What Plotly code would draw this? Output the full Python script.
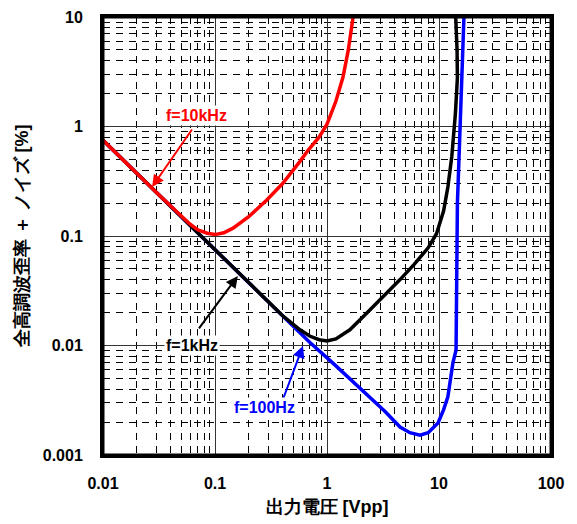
import math
import plotly.graph_objects as go

# ---- data ----
x_10k = [0.01, 0.02, 0.03, 0.05, 0.06, 0.07, 0.085, 0.1, 0.12, 0.145, 0.2, 0.29, 0.4, 0.574, 0.68, 0.85, 1.0, 1.2, 1.39, 1.55, 1.71]
y_10k = [0.75, 0.37, 0.25, 0.152, 0.128, 0.114, 0.106, 0.103, 0.107, 0.118, 0.15, 0.213, 0.3, 0.48, 0.61, 0.8, 1.05, 1.7, 2.83, 5.0, 10.0]

x_1k = [0.01, 0.05, 0.1, 0.2, 0.4, 0.574, 0.7, 0.85, 1.0, 1.2, 1.6, 2.27, 3.2, 4.49, 6.0, 8.0, 9.5, 11.0, 12.0, 13.0, 14.0, 14.6, 14.5, 14.1]
y_1k = [0.75, 0.15, 0.075, 0.0375, 0.0188, 0.0139, 0.0122, 0.0113, 0.0110, 0.0115, 0.0139, 0.0198, 0.028, 0.040, 0.055, 0.078, 0.105, 0.17, 0.28, 0.53, 1.3, 2.8, 5.0, 10.0]

x_100 = [0.01, 0.1, 0.5, 0.7, 1.13, 2.27, 3.3, 4.49, 5.5, 6.76, 8.0, 9.8, 11.0, 12.0, 13.3, 14.2, 14.3, 14.6, 15.1, 15.8, 16.7]
y_100 = [0.75, 0.075, 0.0148, 0.0107, 0.0069, 0.0036, 0.0025, 0.0018, 0.0016, 0.00152, 0.0016, 0.00196, 0.0026, 0.0034, 0.0069, 0.0091, 0.04, 0.2, 0.53, 2.0, 10.0]

x_tick_vals = [0.01, 0.1, 1, 10, 100]
x_tick_text = ["0.01", "0.1", "1", "10", "100"]
y_tick_vals = [0.001, 0.01, 0.1, 1, 10]
y_tick_text = ["0.001", "0.01", "0.1", "1", "10"]

x_title = "出力電圧 [Vpp]"
y_title = "全高調波歪率 ＋ ノイズ [%]"

labels = ["f=10kHz", "f=1kHz", "f=100Hz"]
label_colors = ["#ff0000", "#000000", "#0000ff"]
label_pos = [(0.069, 1.25), (0.0623, 0.0101), (0.279, 0.00269)]
arrow_heads = [(0.0274, 0.28), (0.16, 0.0432), (0.61, 0.0099)]
arrow_tails_px = [(41, -59), (-40, 54), (-21, 56)]

FONT = "Liberation Sans"

fig = go.Figure()
fig.add_trace(go.Scatter(x=x_100, y=y_100, mode="lines", line=dict(color="#0000ff", width=3.5), name="f=100Hz"))
fig.add_trace(go.Scatter(x=x_1k, y=y_1k, mode="lines", line=dict(color="#000000", width=3.5), name="f=1kHz"))
fig.add_trace(go.Scatter(x=x_10k, y=y_10k, mode="lines", line=dict(color="#ff0000", width=3.5), name="f=10kHz"))

minor_x = [k * 10 ** e for e in range(-2, 2) for k in range(2, 10)]
minor_y = [k * 10 ** e for e in range(-3, 1) for k in range(2, 10)]

axis_common = dict(
    type="log",
    showline=True, linecolor="black", linewidth=3, mirror=True,
    showgrid=True, gridcolor="#333333", gridwidth=1,
    ticks="", tickfont=dict(family=FONT, size=16, color="black", weight="bold"),
    zeroline=False, automargin=False,
)

fig.update_xaxes(
    **axis_common,
    range=[-2, 2],
    tickmode="array", tickvals=x_tick_vals, ticktext=x_tick_text,
    ticklabelstandoff=12,
    minor=dict(tickmode="array", tickvals=minor_x, showgrid=True, gridcolor="black",
               griddash="7px,6px", gridwidth=1, ticks=""),
    title=dict(text=x_title, font=dict(family=FONT, size=18, color="black", weight="bold"), standoff=10),
)
fig.update_yaxes(
    **axis_common,
    range=[-3, 1],
    tickmode="array", tickvals=y_tick_vals, ticktext=y_tick_text,
    ticklabelstandoff=14,
    minor=dict(tickmode="array", tickvals=minor_y, showgrid=True, gridcolor="black",
               griddash="7px,6px", gridwidth=1, ticks=""),
    title=dict(text=y_title, font=dict(family=FONT, size=18, color="black", weight="bold"), standoff=10),
)

for txt, col, (tx, ty), (hx, hy), (ax, ay) in zip(labels, label_colors, label_pos, arrow_heads, arrow_tails_px):
    fig.add_annotation(x=math.log10(hx), y=math.log10(hy), ax=ax, ay=ay, text="",
                       showarrow=True, arrowhead=2, arrowsize=1.2, arrowwidth=2, arrowcolor=col)
    fig.add_annotation(x=math.log10(tx), y=math.log10(ty), text=txt, showarrow=False,
                       font=dict(family=FONT, size=16, color=col, weight="bold"),
                       bgcolor="white", borderpad=1)

# heavy frame around the plot area
fig.add_shape(type="rect", xref="paper", yref="paper", x0=0, y0=0, x1=1, y1=1,
              line=dict(color="black", width=3), fillcolor="rgba(0,0,0,0)", layer="above")

fig.update_layout(
    width=577, height=524,
    margin=dict(l=103, r=26, t=17, b=69, autoexpand=False),
    plot_bgcolor="white", paper_bgcolor="white",
    showlegend=False,
)

fig.write_html("out.html", config={"displayModeBar": False},
               post_script="document.body.style.margin='0';")
